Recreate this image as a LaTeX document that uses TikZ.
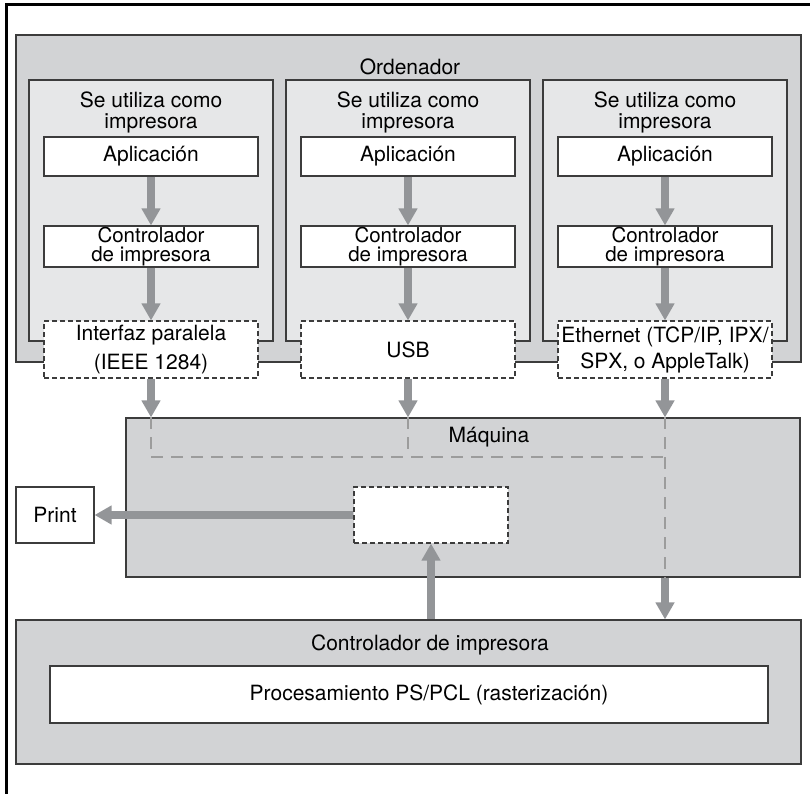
\documentclass[tikz,border=0pt]{standalone}
\usepackage{fontspec}
\setmainfont{TeX Gyre Heros}
\usetikzlibrary{arrows.meta}
\definecolor{outerfill}{HTML}{D2D3D5}
\definecolor{colfill}{HTML}{E6E7E8}
\definecolor{arrowgray}{HTML}{939598}
\definecolor{edge}{HTML}{3C3C3C}
\definecolor{busgray}{HTML}{9C9C9C}

\begin{document}
\begin{tikzpicture}[x=1pt,y=-1pt,
  every node/.style={font=\fontsize{21}{21}\selectfont, inner sep=0pt, align=center},
  region/.style={draw=edge, line width=1.1pt, fill=outerfill},
  column/.style={draw=edge, line width=1.1pt, fill=colfill},
  solidbox/.style={draw=edge, line width=1.1pt, fill=white},
  portbox/.style={draw=edge, line width=1.1pt, fill=white, dash pattern=on 5pt off 3pt},
  flow/.style={arrowgray, line width=8pt, -{Triangle[width=18pt,length=17pt]}},
  bus/.style={busgray, line width=2pt, dash pattern=on 12pt off 8pt},
  tight/.style={font=\fontsize{20.5}{19}\selectfont},
  loose/.style={font=\fontsize{21}{29}\selectfont},
  mid/.style={font=\fontsize{21}{26}\selectfont},
]
\useasboundingbox (0,0) rectangle (810,794);

% page frame (top and left edges)
\draw[line width=3pt] (810,5) -- (6,5) -- (6,794);

% computer region
\node[region, minimum width=785pt, minimum height=327pt] (pc) at (408.5,198.5) {};
\node (pclabel) at (410,67) {Ordenador};

% three usage columns
\foreach \i/\cx in {1/151, 2/408, 3/665} {
  \node[column, minimum width=244pt, minimum height=261pt] (col\i) at (\cx,210.5) {};
  \node (use\i) at (\cx,112.5) {Se utiliza como\\impresora};
  \node[solidbox, minimum width=214pt, minimum height=39pt] (app\i) at (\cx,156.5) {Aplicaci\'on};
  \node[solidbox, tight, minimum width=214pt, minimum height=41pt] (drv\i) at (\cx,246.5) {Controlador\\de impresora};
  \draw[flow] (app\i) -- (drv\i);
}

% connection ports
\node[portbox, loose, minimum width=214pt, minimum height=57pt] (port1) at (151,349.5) {Interfaz paralela\\(IEEE 1284)};
\node[portbox, minimum width=214pt, minimum height=57pt] (port2) at (408,349.5) {USB};
\node[portbox, mid, minimum width=214pt, minimum height=57pt] (port3) at (665,349.5) {Ethernet (TCP/IP, IPX/\\SPX, o AppleTalk)};
\foreach \i in {1,2,3} { \draw[flow] (drv\i) -- (port\i); }

% machine region
\node[region, minimum width=674pt, minimum height=159pt] (mach) at (463,497.5) {};
\node (machlabel) at (489,437) {M\'aquina};
\node[portbox, minimum width=154pt, minimum height=56pt] (inport) at (431,515) {};
\node[solidbox, minimum width=78pt, minimum height=56pt] (print) at (55,515) {Print};

% printer controller region
\node[region, minimum width=785pt, minimum height=144pt] (ctrl) at (408.5,692) {};
\node (ctrllabel) at (430,645) {Controlador de impresora};
\node[solidbox, minimum width=718pt, minimum height=57pt] (proc) at (409,694.5) {};
\node (proctext) at (429,694.5) {Procesamiento PS/PCL (rasterizaci\'on)};

% internal data paths inside the machine
\coordinate (busL) at (151,457);
\coordinate (busR) at (665,457);
\draw[bus] (port1.south |- mach.north) -- (busL) -- (busR);
\draw[bus] (port2.south |- mach.north) -- (port2.south |- busL);
\draw[bus] (port3.south |- mach.north) -- ([yshift=-5pt]port3.south |- mach.south);

% arrows between regions
\foreach \i in {1,2,3} { \draw[flow] (port\i) -- (port\i.south |- mach.north); }
\draw[flow] (port3.south |- mach.south) -- (port3.south |- ctrl.north);
\draw[flow] (inport.south |- ctrl.north) -- (inport.south);
\draw[flow] (inport.west) -- (print.east);
\end{tikzpicture}
\end{document}
